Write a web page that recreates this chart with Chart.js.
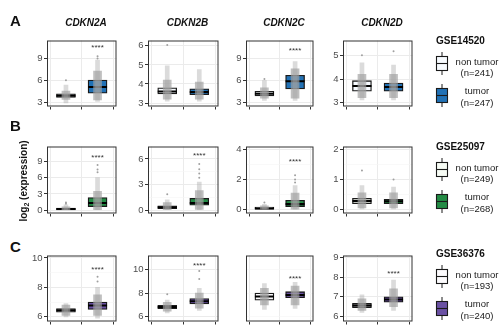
<!DOCTYPE html>
<html lang="en">
<head>
<meta charset="UTF-8" />
<title>CDKN2 family expression in liver cohorts</title>
<script src="https://cdn.jsdelivr.net/npm/chart.js@4.4.0/dist/chart.umd.min.js"></script>
<style>
  body {
    margin: 0;
    width: 502px;
    height: 325px;
    overflow: hidden;
    position: relative;
    background: #fff;
    font-family: "Liberation Sans", Arial, sans-serif;
    color: #111;
  }
  canvas { position: absolute; }
  .gene {
    position: absolute;
    width: 90px;
    text-align: center;
    font-size: 10px;
    line-height: 10px;
    font-weight: bold;
    font-style: italic;
  }
  .tag {
    position: absolute;
    font-size: 15px;
    line-height: 15px;
    font-weight: bold;
  }
  .ytitle {
    position: absolute;
    width: 110px;
    text-align: center;
    font-size: 10px;
    line-height: 10px;
    font-weight: bold;
    transform: rotate(-90deg);
  }
  .ytitle sub { font-size: 7px; vertical-align: -2px; line-height: 0; }
  .lgtitle {
    position: absolute;
    font-size: 10px;
    line-height: 10px;
    font-weight: bold;
  }
  .lgtext {
    position: absolute;
    width: 52px;
    text-align: center;
    font-size: 9.5px;
    line-height: 10px;
    color: #1a1a1a;
  }
  svg { position: absolute; }
</style>
</head>
<body>
<script>
  const genes = ['CDKN2A', 'CDKN2B', 'CDKN2C', 'CDKN2D'];
  const cohorts = ['GSE14520', 'GSE25097', 'GSE36376'];
  const rowTags = ['A', 'B', 'C'];
  const groups = ['non tumor', 'tumor'];
  const groupSizes = [[241, 247], [249, 268], [193, 240]];
  const normalColors = ['#f7fbff', '#f7fcf5', '#fcfbfd'];
  const tumorColors = ['#2171b5', '#238b45', '#6a51a3'];

  // y axis limits and tick labels, [row][gene]
  const yRanges = [
    [[2.5, 11.45], [2.82, 6.28], [2.47, 11.46], [2.82, 5.66]],
    [[-0.61, 11.76], [-0.39, 7.46], [-0.25, 4.19], [-0.14, 2.11]],
    [[5.68, 10.17], [5.56, 11.22], [5.29, 8.1], [5.74, 9.1]]
  ];
  const yTicks = [
    [[3, 6, 9], [3, 4, 5, 6], [3, 6, 9], [3, 4, 5]],
    [[0, 3, 6, 9], [0, 3, 6], [0, 2, 4], [0, 1, 2]],
    [[6, 8, 10], [6, 8, 10], [6, 7, 8], [6, 7, 8, 9]]
  ];

  // box statistics [q1, median, q3] for [non tumor, tumor]
  const boxStats = [
    [
      [[3.72, 3.97, 4.22], [4.31, 5.15, 6.08]],
      [[3.48, 3.61, 3.8], [3.44, 3.58, 3.75]],
      [[3.9, 4.2, 4.55], [4.85, 5.9, 6.73]],
      [[3.48, 3.7, 3.93], [3.48, 3.66, 3.83]]
    ],
    [
      [[0.05, 0.2, 0.4], [0.66, 1.34, 2.35]],
      [[0.19, 0.35, 0.51], [0.58, 0.84, 1.39]],
      [[0.0, 0.08, 0.18], [0.21, 0.38, 0.63]],
      [[0.19, 0.28, 0.37], [0.19, 0.27, 0.34]]
    ],
    [
      [[6.31, 6.45, 6.56], [6.5, 6.77, 7.0]],
      [[6.66, 6.8, 6.94], [7.06, 7.3, 7.53]],
      [[6.2, 6.35, 6.5], [6.3, 6.42, 6.56]],
      [[6.45, 6.56, 6.66], [6.72, 6.86, 7.0]]
    ]
  ];

  // extent of the sample dots [min, max] and of their dense part
  const dotSpread = [
    [
      [[3.0, 5.4], [3.2, 8.8]],
      [[3.1, 4.95], [3.1, 4.75]],
      [[3.3, 6.0], [3.3, 8.6]],
      [[3.1, 4.7], [3.1, 4.6]]
    ],
    [
      [[0, 1.0], [0, 6.0]],
      [[0, 1.2], [0, 3.3]],
      [[0, 0.35], [0, 1.6]],
      [[0, 0.8], [0, 0.75]]
    ],
    [
      [[6.0, 6.9], [5.9, 8.0]],
      [[6.3, 7.4], [6.5, 8.4]],
      [[5.8, 6.9], [5.85, 6.96]],
      [[6.2, 7.1], [6.3, 7.85]]
    ]
  ];
  const dotCore = [
    [
      [[3.45, 4.6], [3.4, 7.3]],
      [[3.2, 4.2], [3.2, 4.1]],
      [[3.6, 5.0], [3.6, 7.6]],
      [[3.2, 4.2], [3.2, 4.2]]
    ],
    [
      [[0, 0.6], [0, 3.5]],
      [[0.05, 0.9], [0.1, 2.3]],
      [[0, 0.25], [0, 1.1]],
      [[0.05, 0.55], [0.05, 0.55]]
    ],
    [
      [[6.1, 6.8], [6.1, 7.5]],
      [[6.45, 7.2], [6.7, 8.0]],
      [[6.0, 6.7], [6.0, 6.8]],
      [[6.3, 6.9], [6.5, 7.4]]
    ]
  ];
  const dotOutliers = [
    [
      [[6.05], [9.3, 9.0]],
      [[6.05], []],
      [[6.2], []],
      [[5.03], [5.2]]
    ],
    [
      [[1.4, 1.2], [8.35, 7.5, 7.0]],
      [[1.87], [5.4, 4.8, 4.3, 3.8]],
      [[0.48], [2.28, 2.0, 1.8]],
      [[1.3], [1.0]]
    ],
    [
      [[], [8.72, 8.4]],
      [[7.9], [9.9, 9.2]],
      [[], []],
      [[], []]
    ]
  ];
  // height of the "****" label over the tumor group, null when absent
  const signifY = [
    [10.69, null, 10.32, null],
    [10.0, 6.58, 3.32, null],
    [9.3, 10.47, 7.18, 8.26]
  ];

  // panel plot areas in page pixels
  const colX = [[47, 125], [148, 227], [246, 322], [343, 421]];
  const rowY = [[33, 113], [139, 220], [248, 328]];
  const legendTop = [41, 147, 254];

  function addDiv(cls, html, left, top) {
    const d = document.createElement('div');
    d.className = cls;
    d.innerHTML = html;
    d.style.left = left + 'px';
    d.style.top = top + 'px';
    document.body.appendChild(d);
    return d;
  }

  const panelFrame = {
    id: 'panelFrame',
    afterDatasetsDraw(chart, args, opts) {
      const { ctx } = chart;
      if (opts.signif != null) {
        ctx.save();
        ctx.fillStyle = '#333';
        ctx.font = '8px "Liberation Sans", Arial, sans-serif';
        ctx.textAlign = 'center';
        ctx.textBaseline = 'middle';
        ctx.fillText('****', chart.scales.x.getPixelForValue(2),
          chart.scales.y.getPixelForValue(opts.signif) + 2);
        ctx.restore();
      }
    },
    afterDraw(chart) {
      const { ctx, chartArea: a } = chart;
      ctx.save();
      ctx.strokeStyle = '#333';
      ctx.lineWidth = 1;
      ctx.strokeRect(a.left + 0.5, a.top + 0.5, a.right - a.left - 1, a.bottom - a.top - 1);
      ctx.restore();
    }
  };

  function noPadding(s) {
    s.paddingTop = 0;
    s.paddingBottom = 0;
    s.paddingLeft = 0;
    s.paddingRight = 0;
  }

  function drawPanel(r, c) {
    const [left, right] = colX[c];
    const [top, bottom] = rowY[r];
    const W = right - left + 27, H = bottom - top + 9;
    const canvas = document.createElement('canvas');
    canvas.width = W;
    canvas.height = H;
    canvas.style.left = (left - 24) + 'px';
    canvas.style.top = (top - 4) + 'px';
    document.body.appendChild(canvas);

    const box = boxStats[r][c];
    const xs = [1, 2];
    const major = yTicks[r][c];
    const [ymin, ymax] = yRanges[r][c];
    const step = major[1] - major[0];
    const minor = [];
    for (let i = -1; i < major.length; i++) {
      const v = major[0] + step * i + step / 2;
      if (v > ymin && v < ymax) minor.push(v);
    }
    const isMajor = v => major.some(m => Math.abs(m - v) < 1e-6);
    const outPts = [];
    dotOutliers[r][c].forEach((vals, i) => vals.forEach(v => outPts.push({ x: xs[i], y: v })));

    new Chart(canvas, {
      type: 'bar',
      data: {
        datasets: [
          {
            data: xs.map((x, i) => ({ x, y: [box[i][0], box[i][2]] })),
            backgroundColor: [normalColors[r], tumorColors[r]],
            borderColor: '#1a1a1a',
            borderWidth: 1.3,
            borderSkipped: false,
            barThickness: 19,
            grouped: false,
            order: 5
          },
          {
            type: 'scatter',
            data: xs.map((x, i) => ({ x, y: box[i][1] })),
            pointStyle: 'line',
            radius: 9.5,
            borderWidth: 2,
            borderColor: '#000',
            order: 4
          },
          {
            data: xs.map((x, i) => ({ x, y: dotSpread[r][c][i] })),
            backgroundColor: 'rgba(165,165,165,0.4)',
            borderWidth: 0,
            barThickness: 4,
            grouped: false,
            order: 3
          },
          {
            data: xs.map((x, i) => ({ x, y: dotCore[r][c][i] })),
            backgroundColor: 'rgba(160,160,160,0.68)',
            borderWidth: 0,
            barThickness: 8,
            grouped: false,
            order: 2
          },
          {
            type: 'scatter',
            data: outPts,
            radius: 1,
            backgroundColor: '#a0a0a0',
            borderWidth: 0,
            order: 1
          }
        ]
      },
      options: {
        responsive: false,
        animation: false,
        events: [],
        layout: { padding: { top: 4, right: 3, left: 0, bottom: 0 } },
        plugins: {
          legend: { display: false },
          tooltip: { enabled: false },
          panelFrame: { signif: signifY[r][c] }
        },
        scales: {
          x: {
            type: 'linear',
            min: 0.4,
            max: 2.6,
            offset: false,
            afterBuildTicks: s => { s.ticks = xs.map(v => ({ value: v })); },
            afterFit: s => { s.height = 5; noPadding(s); },
            ticks: { display: false },
            border: { display: false },
            grid: { color: '#ebebeb', lineWidth: 1, tickLength: 3, tickColor: '#333' }
          },
          y: {
            min: ymin,
            max: ymax,
            afterBuildTicks: s => {
              s.ticks = major.concat(minor).sort((a, b) => a - b).map(v => ({ value: v }));
            },
            afterFit: s => { s.width = 24; noPadding(s); },
            border: { display: false },
            ticks: {
              color: '#4d4d4d',
              font: { size: 9.5, family: '"Liberation Sans", Arial, sans-serif' },
              padding: 1.5,
              callback: v => (isMajor(v) ? String(v) : '')
            },
            grid: {
              tickLength: 3,
              color: ctx => (isMajor(ctx.tick.value) ? '#ebebeb' : '#f5f5f5'),
              lineWidth: ctx => (isMajor(ctx.tick.value) ? 1 : 0.6),
              tickColor: ctx => (isMajor(ctx.tick.value) ? '#333' : 'rgba(0,0,0,0)')
            }
          }
        }
      },
      plugins: [panelFrame]
    });
  }

  for (let r = 0; r < 3; r++) {
    for (let c = 0; c < 4; c++) drawPanel(r, c);
  }

  genes.forEach((g, c) => {
    addDiv('gene', g, (colX[c][0] + colX[c][1]) / 2 - 45, 18);
  });
  rowTags.forEach((t, r) => {
    addDiv('tag', t, 10, [13, 118, 239][r]);
  });
  addDiv('ytitle', 'log<sub>2</sub> (expression)', 24 - 55, 176);

  function legendIcon(fill, left, top) {
    const ns = 'http://www.w3.org/2000/svg';
    const svg = document.createElementNS(ns, 'svg');
    svg.setAttribute('width', 14);
    svg.setAttribute('height', 25);
    svg.style.left = left + 'px';
    svg.style.top = top + 'px';
    svg.innerHTML =
      '<line x1="7" y1="1" x2="7" y2="24" stroke="#1a1a1a" stroke-width="1"/>' +
      '<rect x="1.5" y="5.5" width="11" height="14" fill="' + fill + '" stroke="#1a1a1a" stroke-width="1.1"/>' +
      '<line x1="1.5" y1="12.5" x2="12.5" y2="12.5" stroke="#1a1a1a" stroke-width="1.1"/>';
    document.body.appendChild(svg);
  }

  cohorts.forEach((name, r) => {
    const ty = legendTop[r];
    addDiv('lgtitle', name, 436, ty - 5);
    legendIcon(normalColors[r], 435, ty + 10);
    legendIcon(tumorColors[r], 435, ty + 42);
    addDiv('lgtext', groups[0], 451, ty + 21.6 - 6);
    addDiv('lgtext', '(n=' + groupSizes[r][0] + ')', 451, ty + 32.6 - 6);
    addDiv('lgtext', groups[1], 451, ty + 51 - 6);
    addDiv('lgtext', '(n=' + groupSizes[r][1] + ')', 451, ty + 62.6 - 6);
  });
</script>
</body>
</html>
